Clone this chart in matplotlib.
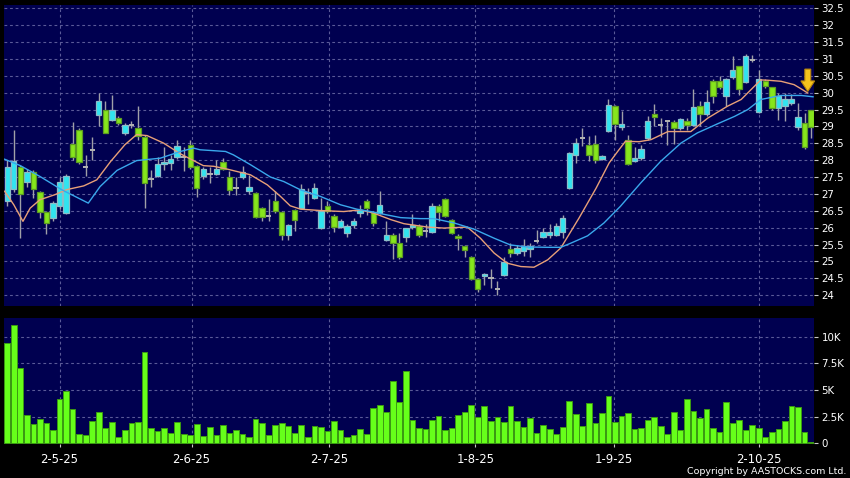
import matplotlib
matplotlib.use("Agg")
import matplotlib.pyplot as plt
from matplotlib.patches import Polygon
import numpy as np

# ---------------- data ----------------
OPEN = [26.78, 27.14, 27.79, 27.37, 27.65, 27.07, 26.48, 26.29, 26.63, 26.43,
        28.48, 28.90, 27.80, 28.31, 29.35, 29.48, 29.20, 29.25, 28.81, 29.03,
        28.97, 28.69, 27.45, 27.52, 27.90, 27.93, 28.09, 28.10, 28.44, 27.82,
        27.52, 27.60, 27.60, 27.96, 27.50, 27.17, 27.50, 27.08, 27.03, 26.58,
        26.36, 26.80, 26.48, 25.79, 26.53, 26.58, 27.03, 26.88, 25.99, 26.63,
        26.36, 26.02, 25.84, 26.07, 26.45, 26.80, 26.46, 26.45, 25.64, 25.79,
        25.56, 25.74, 26.02, 26.04, 25.89, 25.87, 26.65, 26.85, 26.22, 25.77,
        25.47, 25.13, 24.48, 24.58, 24.51, 24.19, 24.60, 25.37, 25.25, 25.32,
        25.38, 25.61, 25.74, 25.79, 25.79, 25.87, 27.17, 28.16, 28.65, 28.46,
        28.48, 28.04, 28.87, 29.60, 28.98, 28.61, 27.98, 28.06, 28.66, 29.37,
        29.05, 29.15, 29.13, 28.95, 29.15, 29.05, 29.60, 29.37, 30.36, 30.36,
        29.91, 30.47, 30.78, 30.32, 30.96, 29.43, 30.34, 30.16, 29.56, 29.60,
        29.70, 28.99, 29.11, 29.48]
CLOSE = [27.80, 27.98, 27.00, 27.65, 27.15, 26.48, 26.14, 26.73, 27.37, 27.52,
         28.09, 27.95, 27.80, 28.31, 29.77, 28.81, 29.48, 29.10, 29.03, 29.03,
         28.71, 27.32, 27.45, 27.89, 27.94, 28.04, 28.41, 28.10, 27.80, 27.17,
         27.74, 27.60, 27.74, 27.74, 27.13, 27.17, 27.65, 27.22, 26.33, 26.33,
         26.36, 26.50, 25.79, 26.07, 26.24, 27.16, 27.03, 27.17, 26.51, 26.51,
         26.02, 26.19, 26.06, 26.21, 26.53, 26.58, 26.14, 26.68, 25.79, 25.56,
         25.13, 25.99, 26.07, 25.79, 25.89, 26.65, 26.48, 26.36, 25.84, 25.69,
         25.33, 24.48, 24.18, 24.63, 24.51, 24.19, 24.98, 25.25, 25.40, 25.45,
         25.45, 25.61, 25.87, 25.86, 26.06, 26.29, 28.21, 28.51, 28.65, 28.16,
         28.02, 28.13, 29.65, 29.08, 29.07, 27.89, 28.08, 28.34, 29.17, 29.28,
         29.05, 29.15, 28.95, 29.22, 29.05, 29.57, 29.38, 29.74, 29.91, 30.16,
         30.41, 30.66, 30.11, 31.08, 30.96, 30.41, 30.21, 29.56, 29.89, 29.80,
         29.82, 29.29, 28.40, 28.98]
HIGH = [28.00, 28.90, 27.85, 27.75, 27.70, 27.10, 26.50, 26.80, 27.50, 27.60,
        29.12, 28.95, 28.16, 28.70, 29.99, 29.77, 29.94, 29.30, 29.10, 29.15,
        29.60, 28.75, 27.71, 28.10, 28.40, 28.15, 28.60, 28.40, 28.60, 27.85,
        27.80, 27.80, 28.00, 28.06, 27.67, 27.50, 27.83, 27.55, 27.05, 26.60,
        26.85, 27.08, 26.50, 26.10, 26.55, 27.29, 27.18, 27.34, 26.88, 26.80,
        26.40, 26.25, 26.10, 26.30, 26.68, 26.85, 26.50, 27.10, 26.20, 25.85,
        25.85, 26.00, 26.40, 26.10, 26.10, 26.73, 26.70, 26.87, 26.25, 25.80,
        25.50, 25.15, 24.50, 24.65, 24.77, 24.41, 25.13, 25.56, 25.50, 25.66,
        25.56, 25.94, 25.98, 26.11, 26.15, 26.38, 28.25, 28.65, 28.95, 28.71,
        28.76, 28.15, 29.80, 29.65, 29.45, 28.75, 28.40, 28.46, 29.30, 29.68,
        29.25, 29.17, 29.18, 29.25, 29.25, 30.10, 29.75, 30.07, 30.40, 30.50,
        30.45, 31.10, 30.80, 31.16, 31.12, 30.66, 30.40, 30.18, 30.00, 30.00,
        29.95, 29.70, 29.40, 29.50]
LOW = [26.65, 27.05, 25.70, 27.20, 26.88, 26.30, 25.82, 26.20, 26.55, 26.40,
       28.00, 27.90, 27.52, 28.02, 29.00, 28.80, 29.15, 29.05, 28.75, 28.95,
       28.60, 26.58, 27.22, 27.50, 27.70, 27.70, 28.05, 27.67, 27.75, 26.90,
       27.45, 27.32, 27.55, 27.70, 26.98, 26.98, 27.45, 27.00, 26.30, 26.19,
       26.19, 26.45, 25.64, 25.64, 25.89, 26.55, 26.70, 26.85, 25.95, 26.45,
       25.86, 26.00, 25.74, 26.00, 26.33, 26.38, 26.06, 26.40, 25.60, 25.07,
       25.07, 25.59, 25.95, 25.74, 25.74, 25.85, 26.20, 26.33, 25.80, 25.35,
       25.13, 24.45, 24.10, 24.31, 24.21, 24.01, 24.58, 25.13, 25.20, 25.15,
       25.13, 25.54, 25.70, 25.69, 25.75, 25.69, 27.15, 27.92, 28.41, 27.97,
       27.92, 28.00, 28.85, 28.61, 28.90, 27.87, 27.95, 28.00, 28.60, 29.00,
       28.70, 28.46, 28.48, 28.90, 28.90, 29.00, 29.00, 29.30, 29.70, 30.10,
       29.60, 30.40, 29.94, 30.30, 30.90, 29.40, 30.15, 29.50, 29.20, 29.15,
       29.65, 28.90, 28.33, 28.67]
VOLUME_K = [9.4, 11.1, 7.1, 2.7, 1.8, 2.3, 1.9, 1.3, 4.2, 4.9,
            3.2, 0.9, 0.75, 2.1, 2.9, 1.4, 2.0, 0.6, 1.25, 1.9,
            2.0, 8.6, 1.4, 1.15, 1.4, 0.97, 2.0, 0.9, 0.75, 1.8,
            0.7, 1.5, 0.8, 1.7, 1.0, 1.3, 0.9, 0.56, 2.3, 1.9,
            0.8, 1.7, 1.9, 1.65, 0.97, 1.72, 0.6, 1.6, 1.53, 1.13,
            2.06, 1.25, 0.6, 0.78, 1.38, 0.88, 3.28, 3.6, 2.9, 5.88,
            3.9, 6.78, 2.19, 1.4, 1.34, 2.19, 2.6, 1.25, 1.44, 2.66,
            2.9, 3.63, 2.5, 3.5, 2.13, 2.47, 2.0, 3.5, 2.13, 1.53,
            2.34, 0.94, 1.69, 1.31, 0.88, 1.56, 4.0, 2.72, 1.66, 3.75,
            1.88, 2.84, 4.44, 2.0, 2.56, 2.84, 1.38, 1.44, 2.19, 2.5,
            1.66, 0.88, 2.94, 1.25, 4.16, 3.06, 2.34, 3.22, 1.41, 1.09,
            3.84, 1.91, 2.16, 1.25, 1.72, 1.41, 0.63, 1.03, 1.31, 2.09,
            3.5, 3.38, 1.06, 0.1]

# moving-average lines (bar index, price)
MA_SHORT_X = [-0.4, 1, 2.4, 3.5, 5, 7.3, 9.1, 11.7, 13.7, 15.8, 18, 19.8, 21.4, 23.9,
              26.5, 28.3, 30, 31.6, 33.6, 37.2, 39.8, 41.8, 43.3, 44.9, 47.9, 51.5,
              54, 56.1, 58.7, 60.7, 64.3, 66.8, 70.4, 72.4, 74.5, 76.5, 78.6, 80.6,
              82.7, 84.7, 87.5, 90.1, 92.1, 93.6, 94.6, 96.7, 98.5, 101.1, 104.6,
              107.2, 110.2, 112.3, 113.8, 115.3, 116.4, 118.4, 120.4, 121.7, 122.5]
MA_SHORT_Y = [27.08, 26.68, 26.19, 26.58, 26.83, 26.98, 27.13, 27.24, 27.42, 27.96,
              28.46, 28.76, 28.73, 28.51, 28.19, 28.01, 27.84, 27.82, 27.74, 27.57,
              27.27, 26.93, 26.65, 26.55, 26.51, 26.48, 26.53, 26.43, 26.24, 26.12,
              26.02, 25.99, 26.02, 25.69, 25.25, 24.95, 24.85, 24.83, 25.05, 25.40,
              26.29, 27.17, 27.92, 28.31, 28.56, 28.55, 28.61, 28.85, 28.85, 29.25,
              29.60, 29.80, 30.09, 30.38, 30.37, 30.34, 30.24, 30.09, 29.99]
MA_LONG_X = [-0.4, 2, 5, 8.3, 12.4, 14.2, 16.8, 19.8, 23.4, 26.5, 28.5, 29.5, 33.4,
             34.6, 37.2, 40.3, 42.3, 44.9, 47.9, 51, 53.5, 55.6, 58.1, 60.2, 63.2,
             65.3, 68.4, 71.4, 74.5, 77, 79.6, 82.7, 84.7, 86.2, 88.8, 91.3, 93.8,
             96.9, 100, 103.1, 105.6, 108.7, 111.3, 113.3, 115.3, 118.4, 121.5, 123.3]
MA_LONG_Y = [28.03, 27.84, 27.52, 27.13, 26.73, 27.22, 27.70, 27.99, 28.06, 28.26,
             28.36, 28.31, 28.26, 28.16, 27.87, 27.50, 27.37, 27.12, 26.93, 26.68,
             26.55, 26.48, 26.38, 26.30, 26.27, 26.27, 26.14, 25.96, 25.69, 25.49,
             25.43, 25.42, 25.42, 25.54, 25.76, 26.14, 26.63, 27.32, 27.97, 28.51,
             28.81, 29.08, 29.30, 29.50, 29.80, 29.92, 29.92, 29.88]

DATE_LABELS = ["2-5-25", "2-6-25", "2-7-25", "1-8-25", "1-9-25", "2-10-25"]
DATE_POS = [8.0, 28.2, 49.3, 71.6, 92.8, 115.0]
PRICE_TICKS = [24, 24.5, 25, 25.5, 26, 26.5, 27, 27.5, 28, 28.5, 29, 29.5,
               30, 30.5, 31, 31.5, 32, 32.5]
VOL_TICKS = [0, 2.5, 5, 7.5, 10]
VOL_LABELS = ["0", "2.5K", "5K", "7.5K", "10K"]
ARROW_TIP = 30.04

# ---------------- styling ----------------
BG = "#000050"
GRID = "#5a5a98"
CYAN, CYAN_EDGE = "#30e4f0", "#8cbcc8"
GREEN, GREEN_EDGE = "#86e61c", "#5c9c22"
DOJI = "#b4b4b4"
WICK = "#a0a0a8"
VOLC, VOLE = "#66ff1a", "#3c9a12"

plt.rcParams["font.family"] = ["DejaVu Sans"]
fig = plt.figure(figsize=(8.5, 4.78), dpi=100, facecolor="black")
W, H = 850.0, 478.0
ax = fig.add_axes([4 / W, 1 - 305.7 / H, (814 - 4) / W, (305.7 - 5) / H])
axv = fig.add_axes([4 / W, 1 - 444 / H, (814 - 4) / W, (444 - 318.3) / H])

o = np.array(OPEN); c = np.array(CLOSE); h = np.array(HIGH); l = np.array(LOW)
idx = np.arange(len(o))
bw = 0.82

for a in (ax, axv):
    a.set_facecolor(BG)
    for s in a.spines.values():
        s.set_visible(False)
    a.set_xlim(-0.5, 123.45)
    for p in DATE_POS:
        a.axvline(p, color=GRID, lw=0.8, ls=(0, (2.5, 2.5)), zorder=0)

# price panel
for t in PRICE_TICKS:
    ax.axhline(t, color=GRID, lw=0.8, ls=(0, (2.5, 2.5)), zorder=0)
ax.vlines(idx, l, h, color=WICK, lw=1.0, zorder=2)
up = c > o
dn = c < o
eq = c == o
ax.bar(idx[up], (c - o)[up], bottom=o[up], width=bw, color=CYAN,
       edgecolor=CYAN_EDGE, linewidth=0.9, zorder=3)
ax.bar(idx[dn], (o - c)[dn], bottom=c[dn], width=bw, color=GREEN,
       edgecolor=GREEN_EDGE, linewidth=0.9, zorder=3)
ax.hlines(c[eq], idx[eq] - bw / 2, idx[eq] + bw / 2, color=DOJI, lw=1.4, zorder=3)

ax.plot(MA_SHORT_X, MA_SHORT_Y, color="#e8a078", lw=1.0, zorder=4)
ax.plot(MA_LONG_X, MA_LONG_Y, color="#3aa8ec", lw=1.0, zorder=4)

# arrow marking the latest bar
ax_x = idx[-1] - 0.5
arrow = Polygon([(ax_x - 0.45, ARROW_TIP + 0.66), (ax_x + 0.45, ARROW_TIP + 0.66),
                 (ax_x + 0.45, ARROW_TIP + 0.31), (ax_x + 1.05, ARROW_TIP + 0.31),
                 (ax_x, ARROW_TIP), (ax_x - 1.05, ARROW_TIP + 0.31),
                 (ax_x - 0.45, ARROW_TIP + 0.31)],
                closed=True, facecolor="#f4c21c", edgecolor="#b8860b",
                linewidth=0.8, zorder=6, clip_on=False)
ax.add_patch(arrow)

ax.set_ylim(23.69, 32.6)
ax.set_yticks(PRICE_TICKS)
ax.set_yticklabels(["%g" % t for t in PRICE_TICKS])
ax.yaxis.tick_right()
ax.tick_params(axis="y", colors="#c8c8c8", labelcolor="white", labelsize=7.4,
               length=3, width=0.8, pad=2.5)
ax.set_xticks([])

# volume panel
for t in VOL_TICKS[1:]:
    axv.axhline(t, color=GRID, lw=0.8, ls=(0, (2.5, 2.5)), zorder=0)
axv.bar(idx, VOLUME_K, width=0.88, color=VOLC, edgecolor=VOLE, linewidth=0.7, zorder=3)
axv.set_ylim(-0.06, 11.73)
axv.set_yticks(VOL_TICKS)
axv.set_yticklabels(VOL_LABELS)
axv.yaxis.tick_right()
axv.tick_params(axis="y", colors="#c8c8c8", labelcolor="white", labelsize=7.4,
                length=3, width=0.8, pad=2.5)
axv.set_xticks(DATE_POS)
axv.set_xticklabels(DATE_LABELS)
axv.tick_params(axis="x", colors="#c8c8c8", labelcolor="white", labelsize=8.4,
                length=2.5, width=0.8, pad=4)

fig.text(846 / W, 1 - 471.5 / H, "Copyright by AASTOCKS.com Ltd.", color="white",
         fontsize=6.8, ha="right", va="center")

fig.savefig("out.png", dpi=100, facecolor="black")
